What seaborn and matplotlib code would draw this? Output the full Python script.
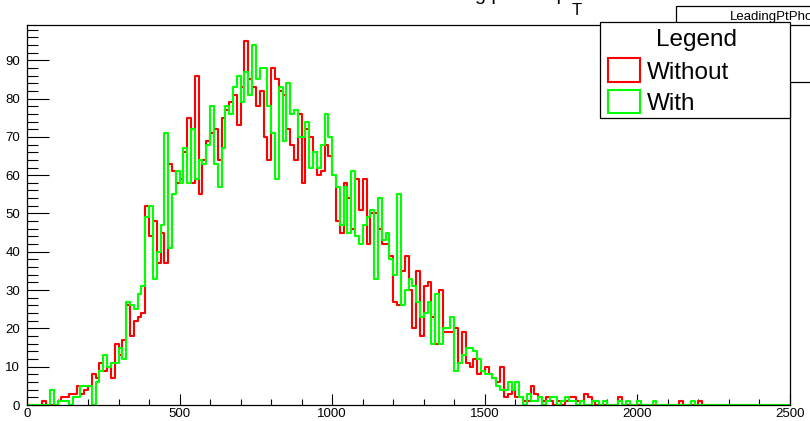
import numpy as np
import pandas as pd
import matplotlib
matplotlib.use("Agg")
import matplotlib.pyplot as plt
import seaborn as sns
from matplotlib.patches import Rectangle
from matplotlib.lines import Line2D

# ---------------- data (12.5 GeV bins, 0 - 2500) ----------------
bin_width = 12.5
n_bins = 200
x_range = (0, 2500)

without_counts = [
    0, 0, 0, 0, 1, 0, 0, 0, 1, 2,
    2, 3, 3, 5, 3, 4, 5, 8, 7, 11,
    9, 10, 7, 16, 13, 17, 26, 18, 22, 23,
    24, 52, 44, 48, 37, 45, 37, 63, 61, 58,
    59, 66, 75, 58, 86, 55, 64, 69, 71, 72,
    64, 75, 77, 79, 81, 73, 83, 95, 85, 83,
    78, 82, 70, 64, 88, 85, 82, 81, 72, 68,
    64, 76, 58, 72, 70, 66, 60, 61, 68, 65,
    60, 48, 45, 58, 54, 46, 59, 51, 59, 42,
    50, 50, 46, 42, 42, 39, 27, 26, 35, 39,
    30, 20, 35, 18, 31, 32, 23, 16, 30, 19,
    19, 19, 20, 11, 19, 11, 10, 12, 8, 9,
    10, 8, 7, 6, 10, 2, 3, 4, 2, 2,
    1, 1, 5, 3, 2, 1, 2, 1, 0, 1,
    0, 1, 2, 2, 1, 1, 3, 2, 1, 0,
    0, 0, 0, 0, 0, 2, 0, 0, 0, 0,
    0, 0, 0, 0, 0, 0, 0, 0, 0, 0,
    0, 1, 0, 0, 0, 0, 1, 0, 0, 0,
    0, 0, 0, 0, 0, 0, 0, 0, 0, 0,
    0, 0, 0, 0, 0, 0, 0, 0, 0, 0,
]

with_counts = [
    0, 0, 0, 0, 0, 0, 4, 0, 1, 1,
    1, 0, 2, 2, 5, 5, 5, 0, 6, 9,
    13, 10, 11, 11, 15, 12, 27, 26, 25, 29,
    31, 49, 52, 33, 40, 47, 71, 41, 55, 61,
    58, 67, 58, 72, 59, 64, 63, 68, 78, 63,
    57, 67, 78, 76, 83, 86, 79, 87, 81, 94,
    85, 88, 88, 78, 71, 59, 83, 69, 84, 76,
    77, 70, 70, 74, 62, 66, 62, 68, 76, 70,
    60, 57, 47, 57, 45, 61, 44, 42, 47, 49,
    51, 33, 54, 43, 45, 38, 34, 55, 26, 30,
    33, 31, 27, 23, 24, 27, 16, 29, 16, 20,
    20, 23, 9, 11, 13, 15, 15, 14, 12, 9,
    8, 8, 7, 5, 4, 4, 6, 4, 6, 2,
    0, 3, 1, 1, 2, 0, 1, 2, 2, 0,
    1, 2, 1, 1, 0, 1, 0, 0, 1, 1,
    0, 1, 0, 0, 0, 1, 0, 1, 0, 0,
    1, 0, 0, 0, 1, 0, 0, 0, 0, 0,
    0, 0, 0, 0, 1, 0, 0, 0, 0, 0,
    0, 0, 0, 0, 0, 0, 0, 0, 0, 0,
    0, 0, 0, 0, 0, 0, 0, 0, 0, 0,
]

series_names = ["Without", "With"]
series_colors = ["#ff0000", "#00ff00"]
x_ticks = [0, 500, 1000, 1500, 2000, 2500]
y_ticks = [0, 10, 20, 30, 40, 50, 60, 70, 80, 90]
title_main = "Leading photon p"
title_sub = "T"
stats_name = "LeadingPtPhoton"

centers = x_range[0] + (np.arange(n_bins) + 0.5) * bin_width

df = pd.DataFrame({
    "pt": np.concatenate([centers, centers]),
    "entries": np.concatenate([without_counts, with_counts]).astype(float),
    "sample": [series_names[0]] * n_bins + [series_names[1]] * n_bins,
})

# ---------------- style ----------------
sns.set_theme(style="white")
plt.rcParams["font.family"] = ["Liberation Sans", "DejaVu Sans"]

W, H = 810, 421
fig = plt.figure(figsize=(W / 100, H / 100), dpi=100)
fig.patch.set_facecolor("white")

x0, x1, ytop, ybot = 27, 790, 25, 405
ax = fig.add_axes([x0 / W, (H - ybot) / H, (x1 - x0) / W, (ybot - ytop) / H])
ax.set_facecolor("white")

for name, col in zip(series_names, series_colors):
    sub = df[df["sample"] == name]
    sns.histplot(data=sub, x="pt", weights="entries", bins=n_bins,
                 binrange=x_range, element="step", fill=False, color=col,
                 linewidth=1.5, ax=ax, legend=False)

ax.set_xlim(*x_range)
ax.set_ylim(0, 99.2)
ax.set_xlabel("")
ax.set_ylabel("")
ax.set_xticks(x_ticks)
ax.set_xticklabels([str(t) for t in x_ticks])
ax.set_xticks(np.arange(0, 2501, 100), minor=True)
ax.set_yticks(y_ticks)
ax.set_yticklabels([str(t) for t in y_ticks])
ax.set_yticks(np.arange(0, 99, 2), minor=True)

ax.tick_params(axis="x", which="major", direction="in", length=8, width=0.8,
               color="black", labelsize=9.5, pad=2, top=False, bottom=True,
               labelcolor="black")
ax.tick_params(axis="x", which="minor", direction="in", length=4, width=0.8,
               color="black", top=False, bottom=True)
ax.tick_params(axis="y", which="major", direction="in", length=16, width=0.8,
               color="black", labelsize=9.5, pad=5, left=True, right=False,
               labelcolor="black")
ax.tick_params(axis="y", which="minor", direction="in", length=8, width=0.8,
               color="black", left=True, right=False)
for s in ax.spines.values():
    s.set_visible(True)
    s.set_color("black")
    s.set_linewidth(0.9)
ax.grid(False)

# ---------------- title (mostly above the canvas) ----------------
fig.text(567 / W, 1 - 0.5 / H, title_main, ha="right", va="baseline",
         fontsize=14, color="black")
fig.text(572 / W, 1 - 15 / H, title_sub, ha="left", va="baseline",
         fontsize=12, color="black")

# ---------------- stats box (partly hidden) ----------------
def px_rect(xl, yt, xr, yb, z, lw=0.9, ec="black"):
    r = Rectangle((xl / W, 1 - yb / H), (xr - xl) / W, (yb - yt) / H,
                  transform=fig.transFigure, facecolor="white",
                  edgecolor=ec, linewidth=lw, zorder=z)
    fig.add_artist(r)
    return r

px_rect(676, 6, 830, 82, 5)
fig.add_artist(Line2D([676 / W, 1], [1 - 25 / H, 1 - 25 / H],
                      transform=fig.transFigure, color="black",
                      linewidth=0.9, zorder=6))
fig.text(730 / W, 1 - 20 / H, stats_name, ha="left", va="baseline",
         fontsize=9.5, color="black", zorder=7)

# ---------------- legend ----------------
px_rect(600, 22, 790, 118, 10)
fig.text(697 / W, 1 - 46 / H, "Legend", ha="center", va="baseline",
         fontsize=17.5, color="black", zorder=11)
rows = [(58, 82), (90, 113)]
for (yt, yb), name, col in zip(rows, series_names, series_colors):
    px_rect(608, yt, 640, yb, 11, lw=1.5, ec=col)
    fig.text(647 / W, 1 - (yb - 3) / H, name, ha="left", va="baseline",
             fontsize=17.5, color="black", zorder=11)

fig.savefig("out.png", dpi=100, facecolor="white")
